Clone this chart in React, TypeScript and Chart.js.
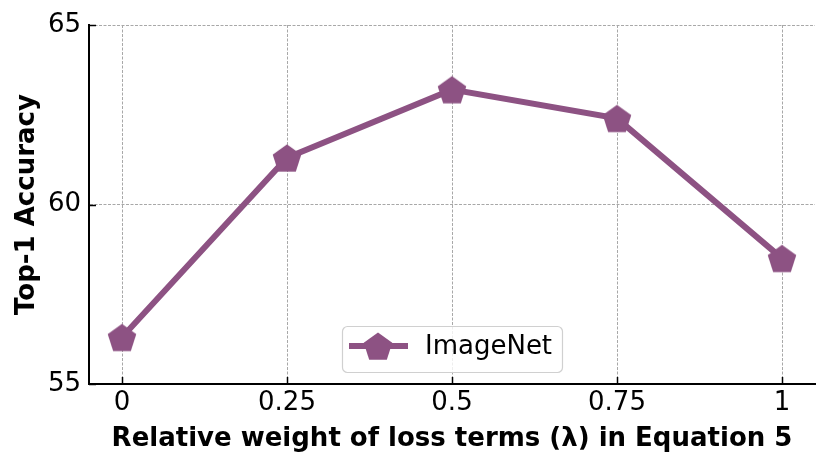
import React, { useEffect, useRef } from "react";
import { Chart, registerables } from "chart.js";

Chart.register(...registerables);

const lambdas = [0, 0.25, 0.5, 0.75, 1];
const accuracy = [56.3, 61.3, 63.2, 62.4, 58.5];
const xTickValues = [0, 0.25, 0.5, 0.75, 1];
const xTickLabels = ["0", "0.25", "0.5", "0.75", "1"];
const yTickValues = [55, 60, 65];
const seriesLabel = "ImageNet";
const xTitle = "Relative weight of loss terms (λ) in Equation 5";
const yTitle = "Top-1 Accuracy";

const COLOR = "#8D5283";
const FONT = "'DejaVu Sans', sans-serif";

function makePentagon(r: number): HTMLCanvasElement {
  const size = Math.ceil(r * 2 + 2);
  const c = document.createElement("canvas");
  c.width = size;
  c.height = size;
  const ctx = c.getContext("2d")!;
  const cx = size / 2;
  const cy = size / 2 + r * 0.1;
  ctx.beginPath();
  for (let i = 0; i < 5; i++) {
    const a = -Math.PI / 2 + (i * 2 * Math.PI) / 5;
    const px = cx + r * Math.cos(a);
    const py = cy + r * Math.sin(a);
    if (i === 0) ctx.moveTo(px, py);
    else ctx.lineTo(px, py);
  }
  ctx.closePath();
  ctx.fillStyle = COLOR;
  ctx.fill();
  return c;
}

const inwardTicks = {
  id: "inwardTicks",
  afterDatasetsDraw(chart: any) {
    const ctx = chart.ctx;
    const xs = chart.scales.x;
    const ys = chart.scales.y;
    const area = chart.chartArea;
    ctx.save();
    ctx.strokeStyle = "#000";
    ctx.lineWidth = 1.5;
    xTickValues.forEach((v) => {
      const px = Math.round(xs.getPixelForValue(v)) + 0.5;
      ctx.beginPath();
      ctx.moveTo(px, area.bottom);
      ctx.lineTo(px, area.bottom - 7);
      ctx.stroke();
    });
    yTickValues.forEach((v) => {
      const py = Math.round(ys.getPixelForValue(v)) + 0.5;
      ctx.beginPath();
      ctx.moveTo(area.left, py);
      ctx.lineTo(area.left + 7, py);
      ctx.stroke();
    });
    ctx.restore();
  },
};

const boxLegend = {
  id: "boxLegend",
  afterDraw(chart: any) {
    const ctx = chart.ctx;
    const ds = chart.data.datasets[0];
    const x0 = 342, y0 = 326, w = 220, h = 46, r = 5;
    ctx.save();
    ctx.beginPath();
    ctx.roundRect(x0 + 0.5, y0 + 0.5, w, h, r);
    ctx.fillStyle = "rgba(255,255,255,0.8)";
    ctx.fill();
    ctx.strokeStyle = "#d0d0d0";
    ctx.lineWidth = 1.2;
    ctx.stroke();
    const ly = y0 + 20;
    ctx.strokeStyle = ds.borderColor;
    ctx.lineWidth = ds.borderWidth;
    ctx.beginPath();
    ctx.moveTo(349, ly);
    ctx.lineTo(408, ly);
    ctx.stroke();
    const img = ds.pointStyle as HTMLCanvasElement;
    ctx.drawImage(img, 378 - img.width / 2, ly - img.height / 2);
    ctx.fillStyle = "#000";
    ctx.font = `26px ${FONT}`;
    ctx.textBaseline = "middle";
    ctx.fillText(ds.label, 425, ly + 1);
    ctx.restore();
  },
};

export default function App() {
  const ref = useRef<HTMLCanvasElement>(null);
  useEffect(() => {
    document.body.style.margin = "0";
    const pent = makePentagon(15);
    const chart = new Chart(ref.current!, {
      type: "line",
      data: {
        datasets: [
          {
            label: seriesLabel,
            data: lambdas.map((x, i) => ({ x, y: accuracy[i] })),
            borderColor: COLOR,
            backgroundColor: COLOR,
            borderWidth: 6,
            pointStyle: pent as any,
            pointRadius: 1,
            pointHoverRadius: 1,
            pointBorderWidth: 0,
            tension: 0,
            clip: false,
          },
        ],
      },
      options: {
        animation: false,
        responsive: false,
        layout: { padding: { left: 12, right: 15, top: 25, bottom: 0 } },
        plugins: {
          legend: { display: false },
          tooltip: { enabled: false },
        },
        scales: {
          x: {
            type: "linear",
            min: -0.05,
            max: 1.05,
            afterBuildTicks: (s: any) => {
              s.ticks = xTickValues.map((v) => ({ value: v }));
            },
            afterFit: (s: any) => {
              s.height = 85;
              s.paddingLeft = 0;
              s.paddingRight = 0;
            },
            ticks: {
              callback: (v: any) => xTickLabels[xTickValues.indexOf(Number(v))] ?? "",
              color: "#000",
              font: { family: FONT, size: 26 },
              padding: 4,
              maxRotation: 0,
            },
            grid: {
              color: "#a8a8a8",
              lineWidth: 1,
              drawTicks: false,
            },
            border: { display: true, color: "#000", width: 2, dash: [3, 1.5] },
            title: {
              display: true,
              text: xTitle,
              color: "#000",
              font: { family: FONT, size: 26, weight: "bold" },
              padding: { top: 0, bottom: 14 },
            },
          },
          y: {
            type: "linear",
            min: 55,
            max: 65,
            afterBuildTicks: (s: any) => {
              s.ticks = yTickValues.map((v) => ({ value: v }));
            },
            afterFit: (s: any) => {
              s.width = 77;
              s.paddingTop = 0;
              s.paddingBottom = 0;
            },
            ticks: {
              color: "#000",
              font: { family: FONT, size: 26 },
              padding: 8,
            },
            grid: {
              color: "#a8a8a8",
              lineWidth: 1,
              drawTicks: false,
            },
            border: { display: true, color: "#000", width: 2, dash: [3, 1.5] },
            title: {
              display: true,
              text: yTitle,
              color: "#000",
              font: { family: FONT, size: 26, weight: "bold" },
              padding: { top: 0, bottom: 0 },
            },
          },
        },
      },
      plugins: [inwardTicks, boxLegend],
    } as any);
    return () => chart.destroy();
  }, []);
  return <canvas ref={ref} width={830} height={469} style={{ display: "block" }} />;
}
